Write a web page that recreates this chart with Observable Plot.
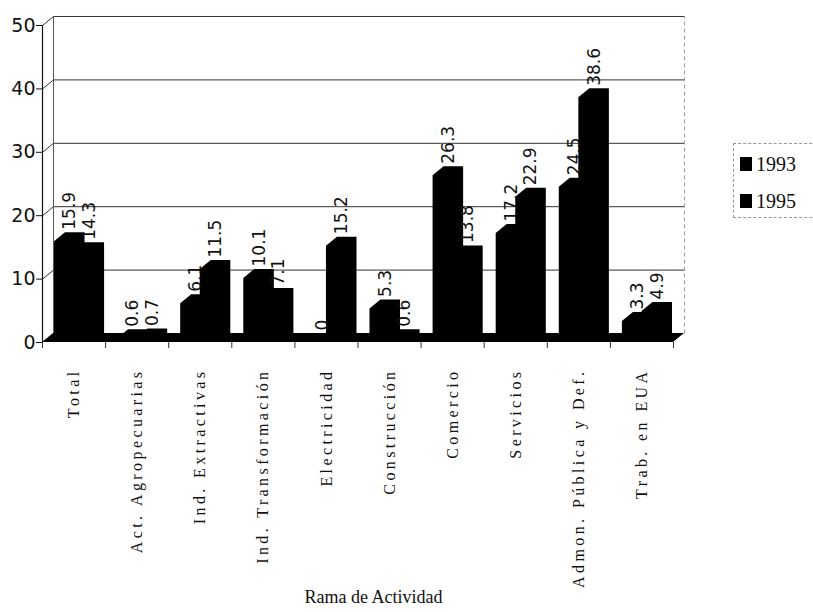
<!DOCTYPE html>
<html>
<head>
<meta charset="utf-8">
<script src="https://cdn.jsdelivr.net/npm/d3@7"></script>
<script src="https://cdn.jsdelivr.net/npm/@observablehq/plot@0.6"></script>
<style>
  html, body { margin: 0; padding: 0; background: #fff; overflow: hidden; }
  #wrap { position: relative; width: 813px; height: 612px; overflow: hidden; }
  #caption { position: absolute; left: 0; top: 587px; width: 813px; box-sizing: border-box;
             padding-right: 66px; text-align: center; font: 18px "Liberation Serif", serif; color: #111; }
  #legend { position: absolute; left: 733px; top: 143px; width: 120px; height: 75px;
            border: 1px dashed #999; box-sizing: border-box; padding: 8px 0 0 6px; }
  .lg-row { display: flex; align-items: center; height: 24px; margin-bottom: 13px;
            font: 20px "Liberation Serif", serif; color: #111; }
  .lg-sw { width: 12px; height: 14px; margin-right: 4px; }
</style>
</head>
<body>
<div id="wrap">
  <div id="chart"></div>
  <div id="legend"></div>
  <div id="caption">Rama de Actividad</div>
</div>
<script>
// ---- data ----
const categories = ["Total", "Act. Agropecuarias", "Ind. Extractivas", "Ind. Transformación",
  "Electricidad", "Construcción", "Comercio", "Servicios", "Admon. Pública y Def.", "Trab. en EUA"];
const years = ["1993", "1995"];
const values1993 = [15.9, 0.6, 6.1, 10.1, 0, 5.3, 26.3, 17.2, 24.5, 3.3];
const values1995 = [14.3, 0.7, 11.5, 7.1, 15.2, 0.6, 13.8, 22.9, 38.6, 4.9];
const yTicks = [0, 10, 20, 30, 40, 50];
const seriesColors = ["#000", "#000"];

// ---- geometry (pseudo-3D depth in data units) ----
const DX = 0.174, DY = 1.42;
const slot = {"1993": [0.19, 0.50], "1995": [0.50, 0.81]};
const nCat = categories.length;

const bars = categories.flatMap((c, i) => years.map((yr, j) => ({
  cat: c, i, year: yr, value: (j === 0 ? values1993 : values1995)[i]
})));

const barPts = bars.flatMap(b => {
  const x0 = b.i + slot[b.year][0], x1 = b.i + slot[b.year][1];
  return [
    {x: x0, lo: 0, hi: b.value},
    {x: x0 + DX, lo: 0, hi: b.value + DY},
    {x: x1, lo: 0, hi: b.value + DY},
    {x: x1 + DX, lo: DY, hi: b.value + DY}
  ].map(p => ({...p, key: b.cat + b.year, year: b.year}));
});

const floorPts = [
  {x: 0, lo: 0, hi: 0},
  {x: DX, lo: 0, hi: DY},
  {x: nCat, lo: 0, hi: DY},
  {x: nCat + DX, lo: DY, hi: DY}
];

const gridTicks = yTicks.filter(t => t > 0);

const chart = Plot.plot({
  width: 813,
  height: 612,
  marginLeft: 42,
  marginRight: 140,
  marginTop: 25,
  marginBottom: 270,
  x: {domain: [0, nCat]},
  y: {domain: [0, 50]},
  color: {domain: years, range: seriesColors},
  marks: [
    Plot.link(gridTicks, {x1: DX, y1: t => t + DY, x2: nCat + DX, y2: t => t + DY, stroke: "#333", strokeWidth: 1}),
    Plot.link(gridTicks, {x1: 0, y1: t => t, x2: DX, y2: t => t + DY, stroke: "#333", strokeWidth: 1}),
    Plot.link([0], {x1: DX, y1: DY, x2: DX, y2: 50 + DY, stroke: "#555", strokeWidth: 1}),
    Plot.link([0], {x1: nCat + DX, y1: DY, x2: nCat + DX, y2: 50 + DY, stroke: "#999", strokeWidth: 1, strokeDasharray: "4,3"}),
    Plot.ruleX([0], {y1: 0, y2: 50, stroke: "#111", strokeWidth: 1.2}),
    Plot.areaY(floorPts, {x: "x", y1: "lo", y2: "hi", fill: "#000"}),
    Plot.areaY(barPts, {x: "x", y1: "lo", y2: "hi", z: "key", fill: "year"}),
    Plot.text(bars, {
      x: d => d.i + (slot[d.year][0] + slot[d.year][1]) / 2 + DX / 2,
      y: d => d.value + DY,
      text: d => String(d.value),
      rotate: -90, textAnchor: "start", dy: -3,
      fontSize: 17, fontFamily: "DejaVu Sans", fill: "#111"
    }),
    Plot.axisY({ticks: yTicks, tickSize: 6, tickPadding: 1, fontSize: 19, fontFamily: "DejaVu Sans", label: null, color: "#111"}),
    Plot.axisX({ticks: d3.range(0, nCat + 1), tickSize: 6, tickFormat: () => "", label: null, color: "#333"}),
    Plot.axisX({
      ticks: categories.map((c, i) => i + 0.5),
      tickFormat: v => categories[Math.floor(v)],
      tickRotate: -90, tickSize: 0, tickPadding: 26,
      fontSize: 16, fontFamily: "Liberation Serif", label: null, color: "#111"
    })
  ]
});

d3.select(chart).selectAll('g[aria-label="x-axis tick label"] text').style("letter-spacing", "3.4px");
document.getElementById("chart").appendChild(chart);

// legend from the chart's own color scale
const colorScale = chart.scale("color");
const legendDiv = d3.select("#legend");
colorScale.domain.forEach((yr, k) => {
  const row = legendDiv.append("div").attr("class", "lg-row");
  row.append("div").attr("class", "lg-sw").style("background", colorScale.range[k]);
  row.append("span").text(yr);
});
</script>
</body>
</html>
